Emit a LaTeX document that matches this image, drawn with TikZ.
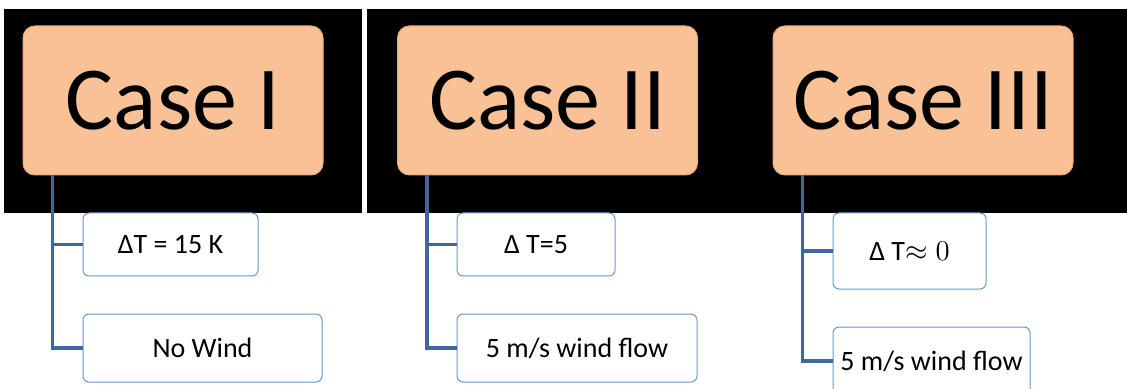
\documentclass[tikz,border=0pt]{standalone}
\usepackage{fontspec}
\setmainfont{Carlito}
\usepackage{tikz}
\definecolor{csPeach}{HTML}{F9C196}
\definecolor{csPeachEdge}{HTML}{F0A874}
\definecolor{csLink}{HTML}{3F68A0}
\definecolor{csEdge}{HTML}{6C96CF}
\usetikzlibrary{positioning,calc}

\begin{document}
\begin{tikzpicture}[
  x=0.5pt,y=-0.5pt,
  casebox/.style={draw=csPeachEdge,fill=csPeach,line width=0.5pt,rounded corners=6pt,
                  minimum width=150pt,minimum height=74.5pt,inner sep=0pt,
                  font=\fontsize{45}{54}\selectfont},
  leafbox/.style={draw=csEdge,fill=white,line width=0.5pt,rounded corners=3pt,
                  minimum height=31.5pt,inner sep=0pt,
                  font=\fontsize{14}{17}\selectfont},
  link/.style={draw=csLink,line width=1.8pt}
]
\clip (0,0) rectangle (1127,389);
\useasboundingbox (0,0) rectangle (1127,389);
\fill[white] (0,0) rectangle (1127,389);
\fill[black] (4,9) rectangle (362,213);
\fill[black] (367,9) rectangle (1127,213);

\node[casebox] (c1) at (173,100.5)   {Case I};
\node[casebox] (c2) at (547.5,100.5) {Case II};
\node[casebox] (c3) at (923,100.5)   {Case III};

\node[leafbox,minimum width=87.5pt] (c1a) at (170.5,244.5) {ΔT = 15 K};
\node[leafbox,minimum width=119.5pt,minimum height=34pt] (c1b) at (202.5,348) {No Wind};
\draw[link] ([xshift=15pt]c1.south west) |- (c1a.west);
\draw[link] ([xshift=15pt]c1.south west) |- (c1b.west);

\node[leafbox,minimum width=79pt] (c2a) at (536,244.5) {Δ T=5};
\node[leafbox,minimum width=120pt,minimum height=34pt] (c2b) at (577,348) {5 m/s wind flow};
\draw[link] ([xshift=15pt]c2.south west) |- (c2a.west);
\draw[link] ([xshift=15pt]c2.south west) |- (c2b.west);

\node[leafbox,minimum width=76.5pt,minimum height=38pt] (c3a) at (909.5,251) {Δ T$\approx 0$};
\node[leafbox,minimum width=98.5pt,minimum height=34pt] (c3b) at (931.5,361) {5 m/s wind flow};
\draw[link] ([xshift=15pt]c3.south west) |- (c3a.west);
\draw[link] ([xshift=15pt]c3.south west) |- (c3b.west);
\end{tikzpicture}
\end{document}
